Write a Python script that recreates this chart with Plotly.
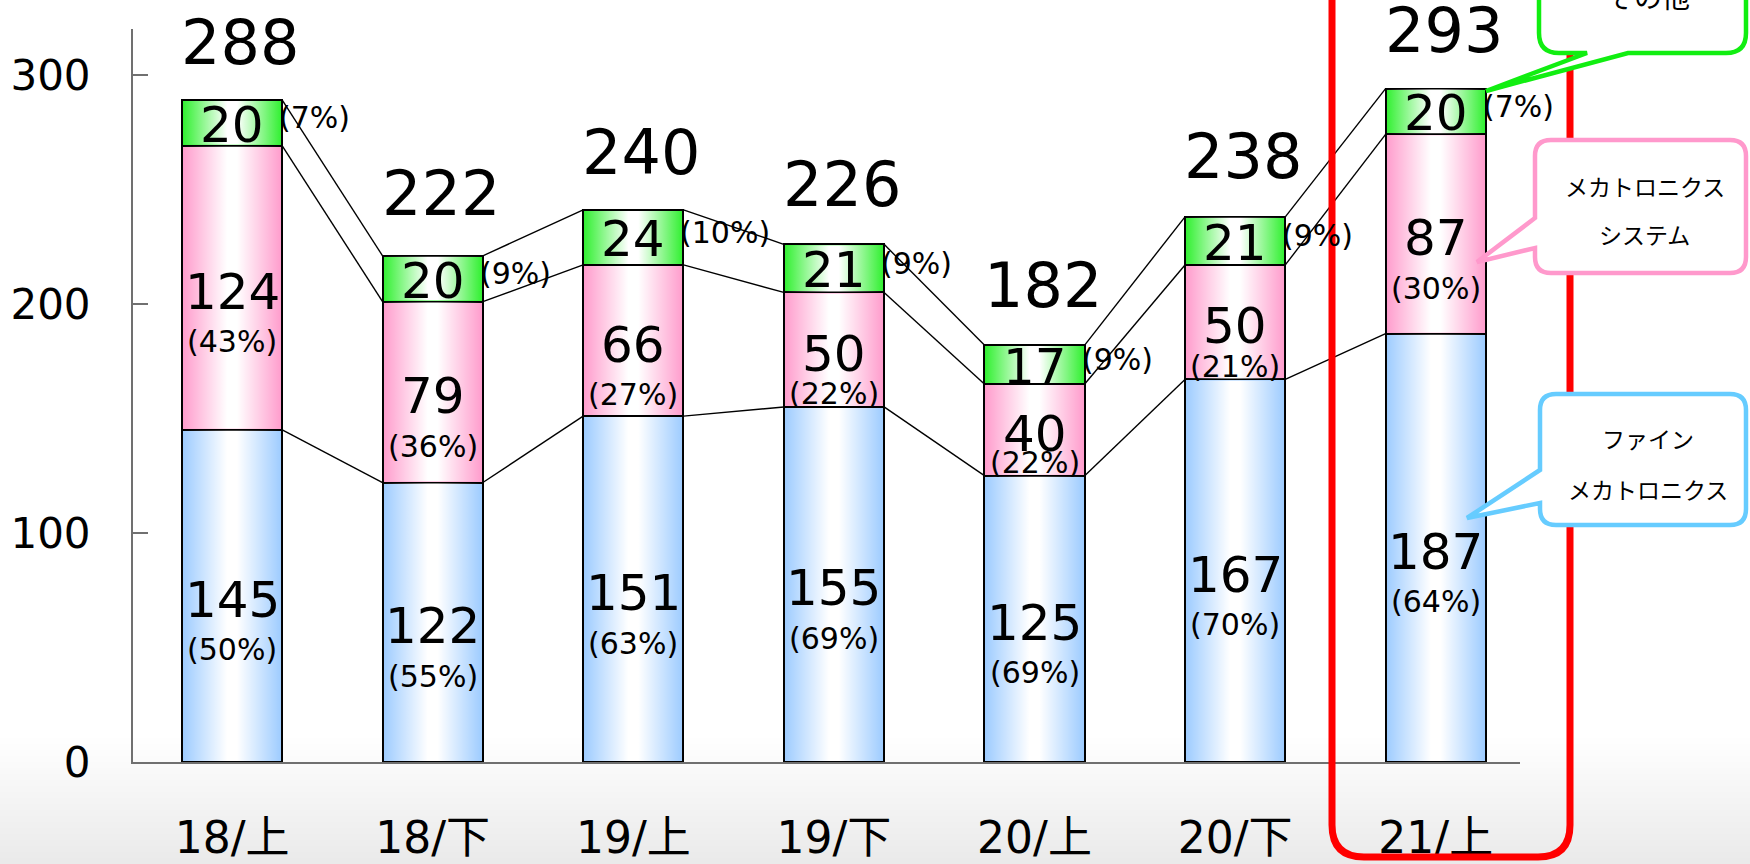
import plotly.graph_objects as go

# ---------------- data ----------------
categories = ["18/上", "18/下", "19/上", "19/下", "20/上", "20/下", "21/上"]
fine_mecha = [145, 122, 151, 155, 125, 167, 187]      # ファイン メカトロニクス
mecha_sys = [124, 79, 66, 50, 40, 50, 87]             # メカトロニクス システム
others = [20, 20, 24, 21, 17, 21, 20]                 # その他
totals = [288, 222, 240, 226, 182, 238, 293]
fine_pct = [50, 55, 63, 69, 69, 70, 64]
mecha_pct = [43, 36, 27, 22, 22, 21, 30]
other_pct = [7, 9, 10, 9, 9, 9, 7]
y_ticks = [0, 100, 200, 300]

# ---------------- geometry / style ----------------
W, H = 1750, 864
ML, MR, MT, MB = 133, 230, 29, 102
YMAX = 320
XR = [-0.494, 6.42]
PLOT_H = H - MT - MB
PX_PER_UNIT = PLOT_H / YMAX
BAR_W = 0.5
NUM_FONT = dict(family="DejaVu Sans", size=50, color="black")
PCT_FONT = dict(family="DejaVu Sans", size=30, color="black")
CJK = "Noto Sans CJK JP"

series = [
    (fine_mecha, fine_pct, "#9ccbff"),
    (mecha_sys, mecha_pct, "#ff9bcc"),
    (others, other_pct, "#2ef02e"),
]

idx = list(range(len(categories)))
fig = go.Figure()

# stacked bars
for vals, _, col in series:
    fig.add_trace(go.Bar(
        x=idx, y=vals, width=BAR_W,
        marker=dict(color=col, line=dict(color="black", width=2)),
        showlegend=False, hoverinfo="skip",
    ))

# white highlight gradient overlay per segment
inset = 1.0 / PX_PER_UNIT
hl_scale = [[0, "rgba(255,255,255,0)"], [0.45, "rgba(255,255,255,1)"],
            [0.55, "rgba(255,255,255,1)"], [1, "rgba(255,255,255,0)"]]
base = [0] * len(idx)
cums = []
for vals, _, col in series:
    for i in idx:
        x0, x1 = i - BAR_W / 2, i + BAR_W / 2
        y0, y1 = base[i] + inset, base[i] + vals[i] - inset
        fig.add_trace(go.Scatter(
            x=[x0, x1, x1, x0, x0], y=[y0, y0, y1, y1, y0],
            mode="lines", line=dict(width=0), fill="toself",
            fillgradient=dict(type="horizontal", colorscale=hl_scale, start=x0, stop=x1),
            showlegend=False, hoverinfo="skip",
        ))
    base = [base[i] + vals[i] for i in idx]
    cums.append(list(base))

# connector lines between bars
for lvl in cums:
    xs, ys = [], []
    for i in idx[:-1]:
        xs += [i + BAR_W / 2, i + 1 - BAR_W / 2, None]
        ys += [lvl[i], lvl[i + 1], None]
    fig.add_trace(go.Scatter(x=xs, y=ys, mode="lines",
                             line=dict(color="black", width=1.4),
                             showlegend=False, hoverinfo="skip"))

annotations = []
# segment labels
base = [0] * len(idx)
for s, (vals, pcts, col) in enumerate(series):
    for i in idx:
        mid = base[i] + vals[i] / 2
        if s < 2:
            half_px = vals[i] / 2 * PX_PER_UNIT
            annotations.append(dict(x=i, y=mid, text=str(vals[i]), showarrow=False,
                                    yshift=-4, font=NUM_FONT))
            off = min(54, half_px - 13)
            annotations.append(dict(x=i, y=mid, text=f"({pcts[i]}%)", showarrow=False,
                                    yshift=-off, font=PCT_FONT))
        else:
            annotations.append(dict(x=i, y=mid, text=str(vals[i]), showarrow=False,
                                    yshift=-2, font=NUM_FONT))
            annotations.append(dict(x=i + BAR_W / 2, y=mid, text=f"({pcts[i]}%)", showarrow=False,
                                    xanchor="left", xshift=-5, yshift=5, font=PCT_FONT))
    base = [base[i] + vals[i] for i in idx]

# totals
for i in idx:
    annotations.append(dict(x=i, y=totals[i], text=str(totals[i]), showarrow=False,
                            xshift=8, yshift=60,
                            font=dict(family="DejaVu Sans", size=62, color="black")))


def P(px, py):
    return f"{(px - ML) / (W - ML - MR):.5f},{(H - MB - py) / PLOT_H:.5f}"


def callout(x0, y0, x1, y1, r, tail_bottom=None, tail_left=None):
    d = f"M{P(x0 + r, y0)} L{P(x1 - r, y0)} Q{P(x1, y0)} {P(x1, y0 + r)} "
    d += f"L{P(x1, y1 - r)} Q{P(x1, y1)} {P(x1 - r, y1)} "
    if tail_bottom:
        a, tip, b = tail_bottom
        d += f"L{P(a, y1)} L{P(*tip)} L{P(b, y1)} "
    d += f"L{P(x0 + r, y1)} Q{P(x0, y1)} {P(x0, y1 - r)} "
    if tail_left:
        a, tip, b = tail_left
        d += f"L{P(x0, a)} L{P(*tip)} L{P(x0, b)} "
    d += f"L{P(x0, y0 + r)} Q{P(x0, y0)} {P(x0 + r, y0)} Z"
    return d


shapes = []
# light gray gradient at bottom of page
g0, g1 = 735, H
step = 3
for y in range(g0, g1, step):
    t = (y - g0) / (g1 - g0)
    c = int(round(255 - 22 * t))
    shapes.append(dict(type="rect", xref="paper", yref="paper", layer="below",
                       x0=-0.2, x1=1.3,
                       y0=(H - MB - (y + step)) / PLOT_H, y1=(H - MB - y) / PLOT_H,
                       fillcolor=f"rgb({c},{c},{c})", line=dict(width=0)))

# red highlight frame
shapes.append(dict(type="path", xref="paper", yref="paper", layer="above",
                   path=callout(1332, -40, 1570, 857, 32),
                   line=dict(color="#ff0000", width=7)))
# callouts
shapes.append(dict(type="path", xref="paper", yref="paper", layer="above",
                   path=callout(1539, -80, 1746, 53, 20, tail_bottom=(1628, (1486, 91), 1587)),
                   fillcolor="white", line=dict(color="#11ee11", width=4.5)))
shapes.append(dict(type="path", xref="paper", yref="paper", layer="above",
                   path=callout(1535, 140, 1746, 273, 16, tail_left=(248, (1477, 262), 218)),
                   fillcolor="white", line=dict(color="#ff99cc", width=4.5)))
shapes.append(dict(type="path", xref="paper", yref="paper", layer="above",
                   path=callout(1540, 394, 1746, 525, 16, tail_left=(503, (1467, 518), 470)),
                   fillcolor="white", line=dict(color="#66ccff", width=4.5)))


def ptext(px, py, text, size=23):
    x, y = P(px, py).split(",")
    return dict(x=float(x), y=float(y), xref="paper", yref="paper", text=text,
                showarrow=False, xanchor="center", yanchor="middle",
                font=dict(family=CJK, size=size, color="black"))


annotations += [
    ptext(1648, -4, "その他", 28),
    ptext(1645, 186, "メカトロニクス"),
    ptext(1645, 234, "システム"),
    ptext(1648, 438, "ファイン"),
    ptext(1648, 489, "メカトロニクス"),
]

fig.update_layout(
    width=W, height=H,
    margin=dict(l=ML, r=MR, t=MT, b=MB, pad=0, autoexpand=False),
    barmode="stack",
    paper_bgcolor="white",
    plot_bgcolor="rgba(0,0,0,0)",
    showlegend=False,
    hovermode=False,
    annotations=annotations,
    shapes=shapes,
    xaxis=dict(range=XR, tickvals=idx, ticktext=categories, showgrid=False, zeroline=False,
               showline=True, linecolor="#707070", linewidth=2, ticks="",
               ticklabelstandoff=36, automargin=False,
               tickfont=dict(family="DejaVu Sans, " + CJK, size=44, color="black")),
    yaxis=dict(range=[0, YMAX], tickvals=y_ticks, showgrid=False, zeroline=False,
               showline=True, linecolor="#707070", linewidth=2,
               ticks="inside", ticklen=15, tickwidth=2, tickcolor="#707070",
               ticklabelstandoff=32, automargin=False,
               tickfont=dict(family="DejaVu Sans", size=42, color="black")),
)

fig.write_html("out.html", config={"displayModeBar": False},
               post_script="document.body.style.margin='0';document.body.style.overflow='hidden';")
